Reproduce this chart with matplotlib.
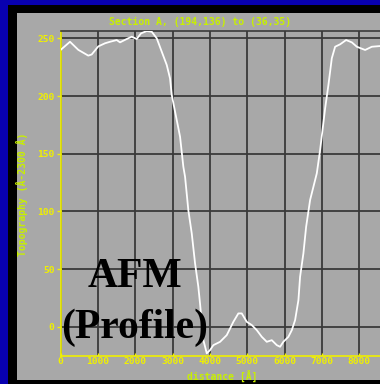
import numpy as np
import matplotlib.pyplot as plt

# Profile data (distance in Å, height in Å)
distance = [0, 249, 472, 740, 831, 1008, 1188, 1322, 1502, 1590, 1770, 1904,
            2038, 2154, 2306, 2441, 2575, 2709, 2843, 2931, 2977, 3066, 3138,
            3200, 3288, 3334, 3422, 3513, 3602, 3690, 3736, 3825, 3916, 4004,
            4093, 4273, 4452, 4629, 4763, 4854, 4989, 5123, 5257, 5391, 5525,
            5659, 5793, 5882, 5970, 6104, 6196, 6284, 6373, 6418, 6507, 6580,
            6687, 6866, 6954, 7088, 7177, 7268, 7357, 7491, 7652, 7805, 7939,
            8162, 8341, 8564, 8800]
height = [240, 247, 240, 235, 236, 243, 245.7, 247, 248.5, 246.5, 249.4, 251.4,
          249.4, 254.3, 256.3, 255.7, 250, 238.4, 226.9, 215.3, 201, 186.4, 174.8,
          164.7, 138.7, 130, 101, 81, 55, 34.7, 20, -11.5, -23, -20.2,
          -15.9, -13, -7.2, 4.3, 11.6, 11.6, 4.3, 1.5, -2.9, -8.7, -13,
          -11.6, -15.9, -17.3, -13, -8.7, -2.9, 5.8, 23.1, 43.4, 63.7, 86.7,
          110, 133, 153, 189, 209.5, 232.7, 242.7, 244.8, 248.5, 246.5, 242.7,
          239.9, 242.7, 243.3, 244]
xticks = [0, 1000, 2000, 3000, 4000, 5000, 6000, 7000, 8000]
yticks = [0, 50, 100, 150, 200, 250]

W, H = 380, 384
BLUE = '#0800b0'
GRAY = '#a8a8a8'
GRID = '#3a3a3a'
YEL = '#f0f000'
LIME = '#c8f000'

fig = plt.figure(figsize=(W / 100, H / 100), dpi=100, facecolor=BLUE)

# black frame and gray panel
fig.patches.append(plt.Rectangle((8 / W, 0), 1, 1 - 5 / H, transform=fig.transFigure,
                                 facecolor='black', edgecolor='none', zorder=-3))
fig.patches.append(plt.Rectangle((17 / W, 4 / H), 1, 1 - 17 / H, transform=fig.transFigure,
                                 facecolor=GRAY, edgecolor='none', zorder=-2))

# axes in pixel terms: left 60.7, top 30.7, bottom 356, 37.3 px per 1000 Å
left, top, bottom = 60.7, 30.7, 356
xmax = 9000
ax_w = xmax / 1000 * 37.3
ax = fig.add_axes([left / W, (H - bottom) / H, ax_w / W, (bottom - top) / H])
ax.set_facecolor('none')
ax.set_xlim(0, xmax)
ax.set_ylim(-25.3, 256.6)

ax.plot(distance, height, color='white', lw=1.3, zorder=3)

ax.set_xticks(xticks)
ax.set_yticks(yticks)
ax.set_xticklabels([str(t) for t in xticks])
ax.grid(True, color=GRID, lw=1.3)
ax.set_axisbelow(True)
ax.tick_params(axis='both', colors=YEL, labelcolor=YEL, width=1,
               labelsize=6.8)
ax.tick_params(axis='y', length=3, direction='out', pad=1.5)
ax.tick_params(axis='x', length=2, direction='in', pad=1)
for lab in ax.get_xticklabels() + ax.get_yticklabels():
    lab.set_family('DejaVu Sans Mono')
    lab.set_fontweight('bold')

ax.spines['left'].set_color(YEL)
ax.spines['bottom'].set_color(YEL)
ax.spines['top'].set_color(GRID)
ax.spines['right'].set_visible(False)
for s in ax.spines.values():
    s.set_linewidth(1.2)

mono = dict(family='DejaVu Sans Mono', fontweight='bold', fontsize=7)
fig.text(200 / W, 1 - 22 / H, 'Section A, (194,136) to (36,35)', color=LIME,
         ha='center', va='center', **mono)
fig.text(222 / W, 1 - 376 / H, 'distance [Å]', color=LIME,
         ha='center', va='center', **mono)
fig.text(22 / W, 1 - 194 / H, 'Topography (Å-2300 Å)', color=LIME, rotation=90,
         ha='center', va='center', **mono)

# overlay label
big = dict(family='Liberation Serif', fontweight='bold', fontsize=30, color='black',
           ha='center', va='baseline')
fig.text(135 / W, 1 - 287 / H, 'AFM', **big)
fig.text(135 / W, 1 - 338 / H, '(Profile)', **big)

fig.savefig('out.png', dpi=100, facecolor=BLUE)
